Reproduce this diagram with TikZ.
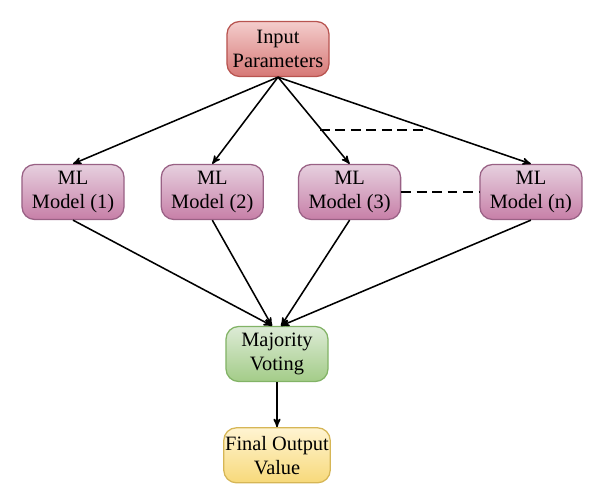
\documentclass[tikz,border=0pt]{standalone}
\usepackage{fontspec}
\setmainfont{Liberation Serif}
\usetikzlibrary{
	arrows,
	positioning
}
\definecolor{inputfill}{HTML}{F4CDCC}
\definecolor{inputgrad}{HTML}{D67876}
\definecolor{inputline}{HTML}{B85450}
\definecolor{modelfill}{HTML}{E6D0DE}
\definecolor{modelgrad}{HTML}{C77FA8}
\definecolor{modelline}{HTML}{996185}
\definecolor{votefill}{HTML}{DDEBD6}
\definecolor{votegrad}{HTML}{A3CC88}
\definecolor{voteline}{HTML}{82B366}
\definecolor{finalfill}{HTML}{FFF4D2}
\definecolor{finalgrad}{HTML}{F7D97A}
\definecolor{finalline}{HTML}{D6B656}
\tikzset{
	>=stealth',
	flowedge/.style={->, line width=1.1pt},
	linkedge/.style={line width=1.1pt, dash pattern=on 7pt off 4pt},
	boxnode/.style={draw, rounded corners=9pt, line width=0.9pt, align=center,
		minimum width=2.55cm, minimum height=1.375cm, inner sep=1pt,
		font=\fontsize{14.5}{17}\selectfont},
	inputnode/.style={boxnode, draw=inputline, top color=inputfill, bottom color=inputgrad},
	modelnode/.style={boxnode, draw=modelline, top color=modelfill, bottom color=modelgrad},
	votenode/.style={boxnode, draw=voteline, top color=votefill, bottom color=votegrad},
	finalnode/.style={boxnode, draw=finalline, top color=finalfill, bottom color=finalgrad}
}
\begin{document}
\begin{tikzpicture}[x=0.025cm, y=-0.025cm]
	\useasboundingbox (0,0) rectangle (600,504);

	\node[inputnode] (input) at (278,49) {Input\\Parameters};
	\node[modelnode] (m1) at (73,192) {ML\\Model (1)};
	\node[modelnode] (m2) [right=0.9cm of m1] {ML\\Model (2)};
	\node[modelnode] (m3) [right=0.85cm of m2] {ML\\Model (3)};
	\node[modelnode] (mn) [right=1.95cm of m3] {ML\\Model (n)};
	\node[votenode] (vote) at (277,354) {Majority\\Voting};
	\node[finalnode] (final) [below=1.125cm of vote] {Final Output\\Value};
	\coordinate (gapa) at (320,130);
	\coordinate (gapb) at (427,130);

	\path[flowedge]
		(input.south) edge (m1.north)
			edge (m2.north)
			edge (m3.north)
			edge (mn.north)
		(m1.south) edge ([xshift=-0.125cm]vote.north)
		(m2.south) edge ([xshift=-0.125cm]vote.north)
		(m3.south) edge ([xshift=0.1cm]vote.north)
		(mn.south) edge ([xshift=0.1cm]vote.north)
		(vote) edge (final)
	;

	\path[linkedge]
		(gapa) edge (gapb)
		(m3) edge (mn)
	;
\end{tikzpicture}
\end{document}
